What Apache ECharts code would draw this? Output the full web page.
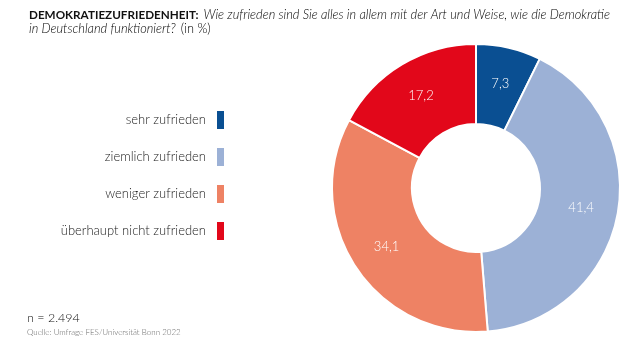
<!DOCTYPE html>
<html>
<head>
<meta charset="utf-8">
<script src="https://cdn.jsdelivr.net/npm/echarts@6/dist/echarts.min.js"></script>
<style>
html,body{margin:0;padding:0;background:#fff;}
#chart{width:640px;height:356px;}
</style>
</head>
<body>
<div id="chart"></div>
<script>
const categories = ['sehr zufrieden', 'ziemlich zufrieden', 'weniger zufrieden', 'überhaupt nicht zufrieden'];
const values = [7.3, 41.4, 34.1, 17.2];
const colors = ['#0a4f92', '#9cb1d6', '#ee8264', '#e2071a'];

const FONT = 'Lato';
const chart = echarts.init(document.getElementById('chart'), null, {renderer: 'canvas'});
chart.setOption({
  backgroundColor: '#ffffff',
  animation: false,
  title: [
    {
      left: 24, top: 3,
      text: '{b|DEMOKRATIEZUFRIEDENHEIT:} {i|Wie zufrieden sind Sie alles in allem mit der Art und Weise, wie die Demokratie}\n{i|in Deutschland funktioniert?} {n|(in %)}',
      textStyle: {
        lineHeight: 14,
        rich: {
          b: {fontFamily: FONT, fontSize: 11.7, fontWeight: 'bold', color: '#111', lineHeight: 14},
          i: {fontFamily: FONT, fontSize: 12.8, fontStyle: 'italic', fontWeight: 300, color: '#000', lineHeight: 14},
          n: {fontFamily: FONT, fontSize: 12.8, fontWeight: 300, color: '#000', lineHeight: 14}
        }
      }
    },
    {
      left: 22, top: 306,
      text: 'n = 2.494',
      textStyle: {fontFamily: FONT, fontSize: 12.5, fontWeight: 300, color: '#111'}
    },
    {
      left: 22, top: 323,
      text: 'Quelle: Umfrage FES/Universität Bonn 2022',
      textStyle: {fontFamily: FONT, fontSize: 8, fontWeight: 300, color: '#666'}
    }
  ],
  legend: {
    orient: 'vertical',
    right: 414,
    top: 109,
    padding: 0,
    align: 'right',
    icon: 'rect',
    itemWidth: 9,
    itemHeight: 20,
    itemGap: 15,
    data: categories,
    textStyle: {fontFamily: FONT, fontSize: 13, fontWeight: 300, color: '#1a1a1a', padding: [0, 5, 0, 0]}
  },
  series: [{
    type: 'pie',
    center: [476, 188],
    radius: [64, 144],
    startAngle: 90,
    clockwise: true,
    avoidLabelOverlap: false,
    itemStyle: {borderColor: '#ffffff', borderWidth: 2},
    label: {
      show: true,
      position: 'inside',
      color: '#ffffff',
      fontFamily: FONT,
      fontSize: 13,
      fontWeight: 300,
      formatter: p => String(p.value).replace('.', ',')
    },
    labelLine: {show: false},
    emphasis: {disabled: true},
    data: categories.map((c, i) => ({name: c, value: values[i], itemStyle: {color: colors[i]}}))
  }]
});
</script>
</body>
</html>
